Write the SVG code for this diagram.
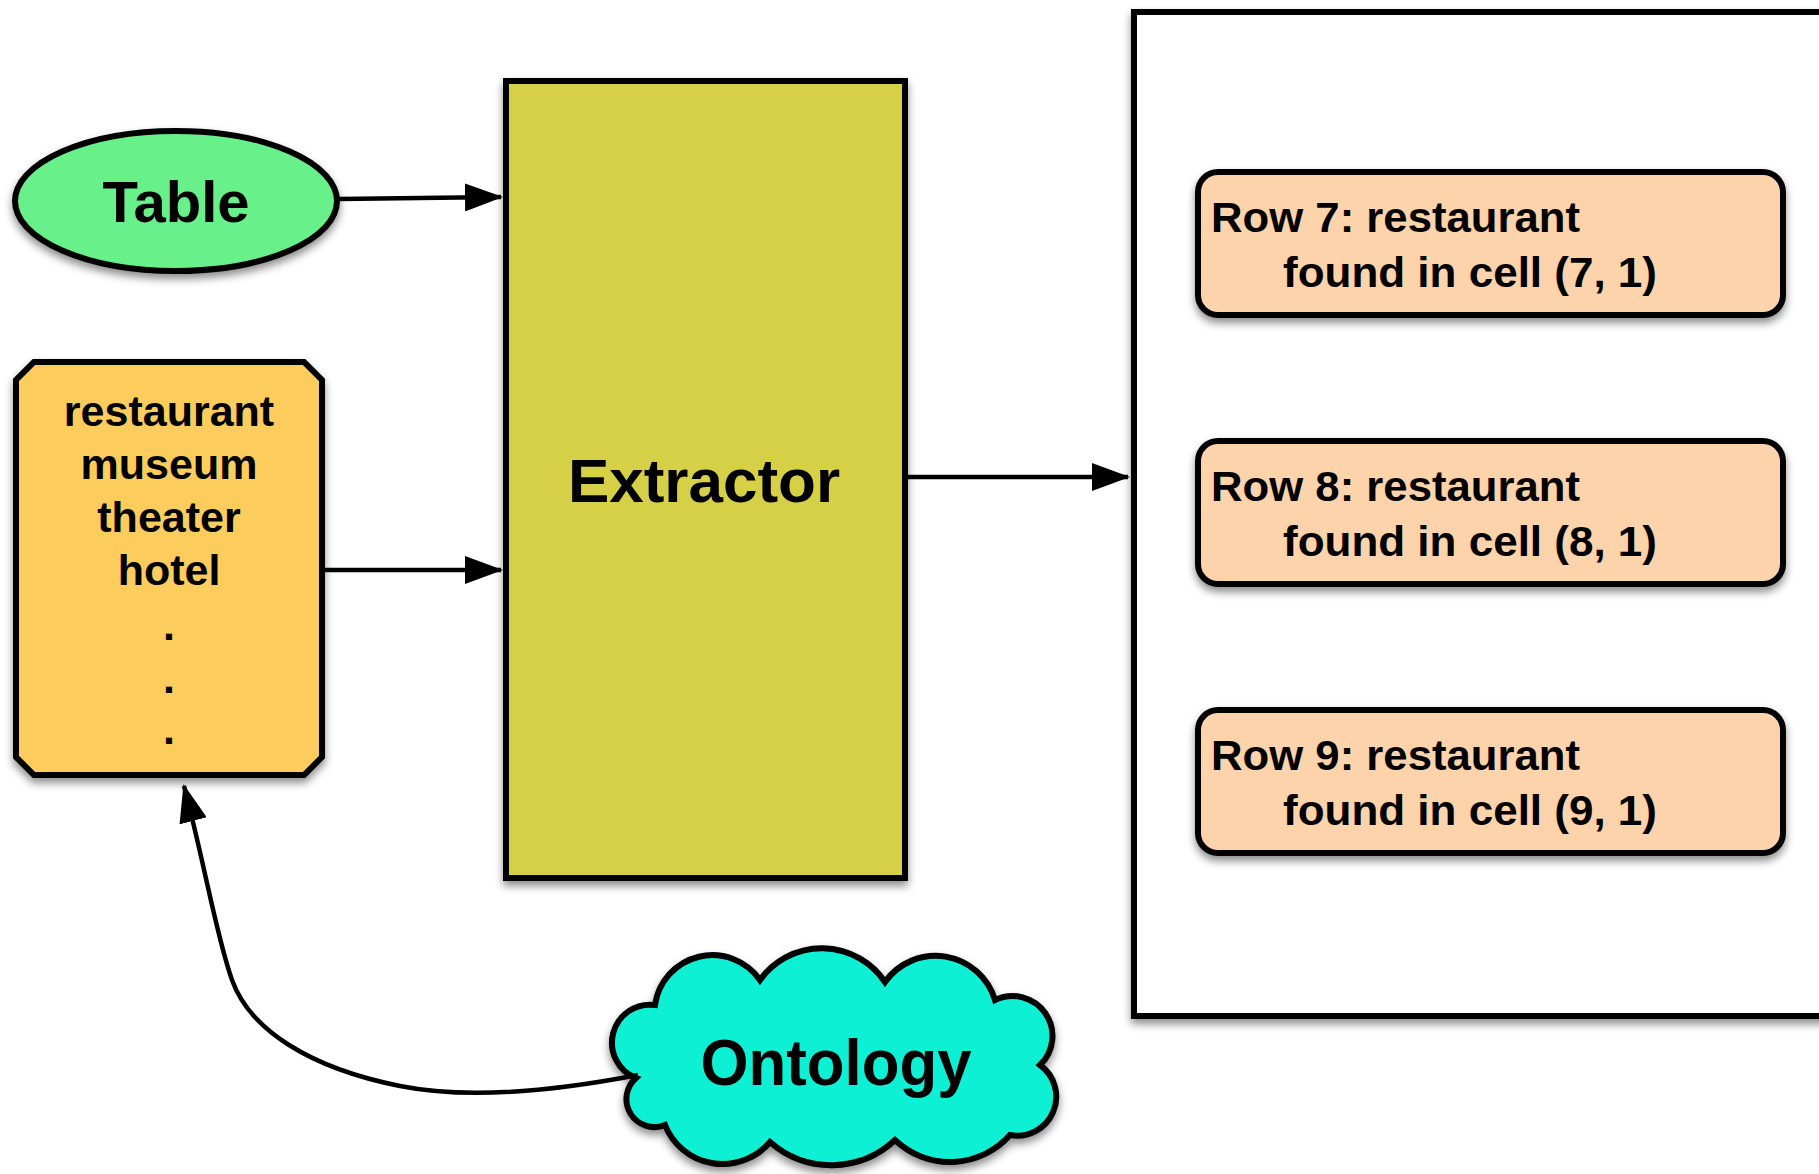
<svg xmlns="http://www.w3.org/2000/svg" width="1819" height="1174" viewBox="0 0 1819 1174">
<defs>
<filter id="sh" x="-10%" y="-10%" width="125%" height="130%">
<feDropShadow dx="0" dy="5" stdDeviation="4" flood-color="#000" flood-opacity="0.45"/>
</filter>
<marker id="ah" viewBox="0 0 38 28" refX="36" refY="14" markerWidth="38" markerHeight="28" markerUnits="userSpaceOnUse" orient="auto">
<path d="M0,0 L38,14 L0,28 z" fill="#000"/>
</marker>
<style>
.shape{stroke:#000;stroke-width:6;filter:url(#sh)}
.t{font-family:"Liberation Sans",Arial,sans-serif;font-weight:bold;fill:#000}
.c{text-anchor:middle}
.edge{fill:none;stroke:#000;stroke-width:4.5;marker-end:url(#ah)}
.row{fill:#fdd3ab}
</style>
</defs>
<rect width="1819" height="1174" fill="#fff"/>

<g id="results">
<rect class="shape" x="1134" y="12" width="730" height="1004" fill="#fff"/>
</g>

<g id="table">
<ellipse class="shape" cx="176" cy="201" rx="161" ry="70" fill="#68f08a"/>
<text class="t c" x="176" y="222" font-size="58">Table</text>
</g>

<g id="list">
<path class="shape" d="M34,362 L304,362 L322,380 L322,757 L304,775 L34,775 L16,757 L16,380 Z" fill="#fccd5c"/>
<text class="t c" font-size="43" x="169" y="426">restaurant</text>
<text class="t c" font-size="43" x="169" y="479">museum</text>
<text class="t c" font-size="43" x="169" y="532">theater</text>
<text class="t c" font-size="43" x="169" y="585">hotel</text>
<text class="t c" font-size="43" x="169" y="640">.</text>
<text class="t c" font-size="43" x="169" y="693">.</text>
<text class="t c" font-size="43" x="169" y="744">.</text>
</g>

<g id="extractor">
<rect class="shape" x="506" y="81" width="399" height="797" fill="#d5d045"/>
<text class="t c" x="704" y="502" font-size="62">Extractor</text>
</g>

<g id="row7">
<rect class="shape row" x="1198" y="172" width="585" height="143" rx="20"/>
<text class="t" x="1211" y="232" font-size="43" textLength="369" lengthAdjust="spacingAndGlyphs">Row 7: restaurant</text>
<text class="t" x="1283" y="287" font-size="43" textLength="374" lengthAdjust="spacingAndGlyphs">found in cell (7, 1)</text>
</g>
<g id="row8">
<rect class="shape row" x="1198" y="441" width="585" height="143" rx="20"/>
<text class="t" x="1211" y="501" font-size="43" textLength="369" lengthAdjust="spacingAndGlyphs">Row 8: restaurant</text>
<text class="t" x="1283" y="556" font-size="43" textLength="374" lengthAdjust="spacingAndGlyphs">found in cell (8, 1)</text>
</g>
<g id="row9">
<rect class="shape row" x="1198" y="710" width="585" height="143" rx="20"/>
<text class="t" x="1211" y="770" font-size="43" textLength="369" lengthAdjust="spacingAndGlyphs">Row 9: restaurant</text>
<text class="t" x="1283" y="825" font-size="43" textLength="374" lengthAdjust="spacingAndGlyphs">found in cell (9, 1)</text>
</g>

<g id="ontology">
<path class="shape" fill="#10f0d4" d="M636,1078 A38,38 0 0 1 655,1005 A58,58 0 0 1 760,980 A76,76 0 0 1 885,982 A62,62 0 0 1 995,1000 A40,40 0 0 1 1040,1065 A39,39 0 0 1 1010,1135 A80,80 0 0 1 895,1140 A93,93 0 0 1 770,1142 A62,62 0 0 1 665,1125 A28,28 0 0 1 636,1078 Z"/>
<text class="t c" x="836" y="1085" font-size="64" textLength="271" lengthAdjust="spacingAndGlyphs">Ontology</text>
</g>

<g id="connectors">
<path class="edge" d="M339,199 L501,197"/>
<path class="edge" d="M322,570 L501,570"/>
<path class="edge" d="M905,477 L1128,477"/>
<path class="edge" d="M638,1075 C560,1090 470,1100 400,1086 C310,1068 250,1030 232,980 C216,935 206,870 184,786"/>
</g>
</svg>
